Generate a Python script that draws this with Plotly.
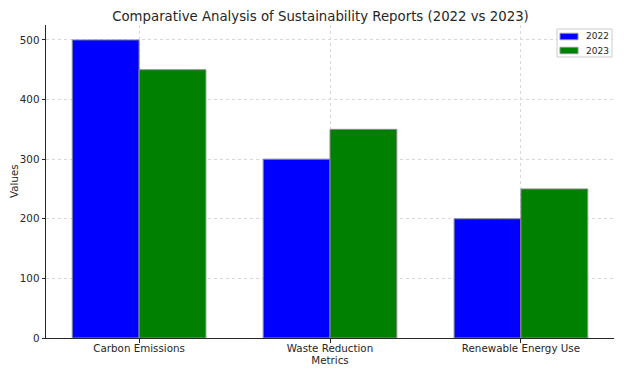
import plotly.graph_objects as go

categories = ["Carbon Emissions", "Waste Reduction", "Renewable Energy Use"]
series_names = ["2022", "2023"]
values_2022 = [500, 300, 200]
values_2023 = [450, 350, 250]
y_ticks = [0, 100, 200, 300, 400, 500]
colors = ["#0000ff", "#008000"]

W, H = 624, 375
L, R, T, B = 46, 10, 25, 37
PW, PH = W - L - R, H - T - B


def px_x(p):
    return (p - L) / PW


def px_y(p):
    return (H - B - p) / PH


fig = go.Figure()
for name, vals, col in zip(series_names, [values_2022, values_2023], colors):
    fig.add_trace(go.Bar(x=categories, y=vals, name=name, showlegend=False,
                         marker=dict(color=col, line=dict(color="#8c8c8c", width=1))))

font = "DejaVu Sans, sans-serif"
txt = "#262626"

# custom matplotlib-like legend
shapes = [dict(type="rect", xref="paper", yref="paper",
               x0=px_x(557), x1=px_x(612), y0=px_y(57), y1=px_y(29),
               line=dict(color="#cccccc", width=1), fillcolor="rgba(255,255,255,0.85)", layer="above")]
annotations = []
for i, (name, col) in enumerate(zip(series_names, colors)):
    cy = 36.5 + 14 * i
    shapes.append(dict(type="rect", xref="paper", yref="paper",
                       x0=px_x(560), x1=px_x(578), y0=px_y(cy + 3.2), y1=px_y(cy - 3.2),
                       line=dict(color="#8c8c8c", width=1), fillcolor=col, layer="above"))
    annotations.append(dict(text=name, xref="paper", yref="paper", x=px_x(584), y=px_y(cy),
                            xanchor="left", yanchor="middle", showarrow=False,
                            font=dict(size=9, color=txt, family=font)))

# y-axis title as annotation
annotations.append(dict(text="Values", xref="paper", yref="paper", x=px_x(14), y=px_y(181),
                        xanchor="center", yanchor="middle", textangle=-90, showarrow=False,
                        font=dict(size=10.3, color=txt, family=font)))

fig.update_layout(
    width=W, height=H,
    margin=dict(l=L, r=R, t=T, b=B),
    paper_bgcolor="white", plot_bgcolor="white",
    barmode="group", bargap=0.3, bargroupgap=0,
    showlegend=False,
    font=dict(family=font, color=txt, size=10.3),
    title=dict(text="Comparative Analysis of Sustainability Reports (2022 vs 2023)",
               x=320.5 / W, xanchor="center", xref="container", y=1 - 16 / H, yanchor="middle",
               font=dict(size=13.3, color=txt)),
    shapes=shapes, annotations=annotations,
    xaxis=dict(range=[-0.4875, 2.4875], showline=True, linecolor=txt, linewidth=1,
               ticks="outside", ticklen=3.5, tickcolor=txt, automargin=False,
               ticklabelstandoff=-3,
               showgrid=True, gridcolor="#d8d8d8", griddash="dot", gridwidth=1,
               title=dict(text="Metrics", standoff=2, font=dict(size=10.3))),
    yaxis=dict(range=[0, 525], tickvals=y_ticks, showline=True, linecolor=txt, linewidth=1,
               ticks="outside", ticklen=3.5, tickcolor=txt, automargin=False,
               showgrid=True, gridcolor="#d8d8d8", griddash="dot", gridwidth=1, zeroline=False),
)
fig.write_html("out.html", config={"displayModeBar": False},
               post_script="document.body.style.margin='0';")
